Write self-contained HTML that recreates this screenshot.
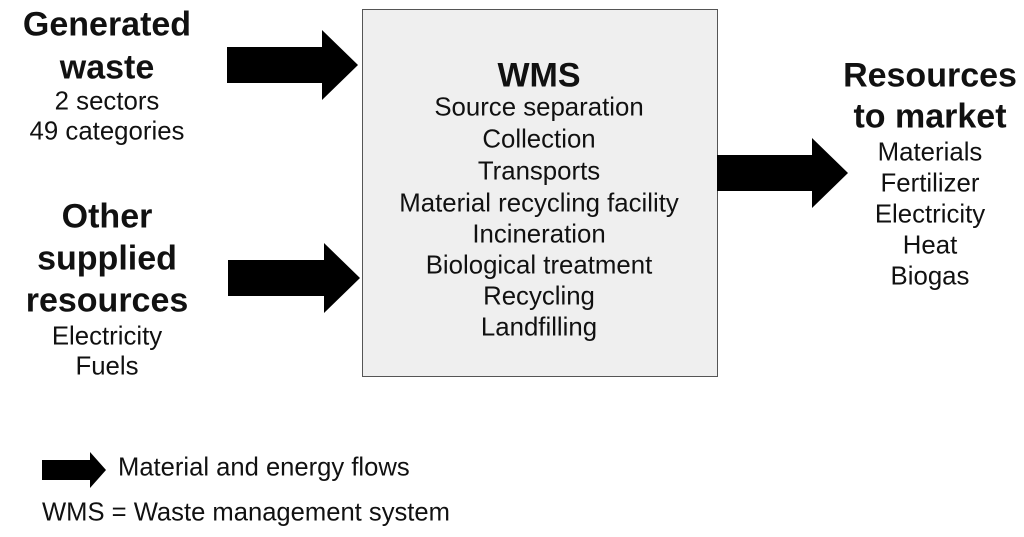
<!DOCTYPE html>
<html><head><style>
body{margin:0;width:1024px;height:537px;background:#fff;position:relative;overflow:hidden;font-family:"Liberation Sans",Arial,sans-serif;color:#111}
.t{position:absolute;text-align:center;white-space:nowrap;transform:translate(-50%,-50%)}
.b{font-weight:bold;font-size:34px}
.r{font-size:25.8px}
.l{position:absolute;white-space:nowrap;font-size:25.6px;transform:translateY(-50%)}
#box{position:absolute;left:362px;top:9px;width:354px;height:366px;background:#efefef;border:1px solid #555}
svg{position:absolute;left:0;top:0}
</style></head><body>
<div id="box"></div>
<svg width="1024" height="537">
<polygon points="227,47 322,47 322,30 358,65 322,100 322,83 227,83" fill="#000"/>
<polygon points="228,260 324,260 324,243 360,278 324,313 324,296 228,296" fill="#000"/>
<polygon points="717,155 812,155 812,138 848,173 812,208 812,191 717,191" fill="#000"/>
<polygon points="42,460 90,460 90,452 106,470 90,488 90,480 42,480" fill="#000"/>
</svg>
<div class="t b" style="left:107px;top:25px">Generated</div>
<div class="t b" style="left:107px;top:68px">waste</div>
<div class="t r" style="left:107px;top:102px">2 sectors</div>
<div class="t r" style="left:107px;top:132px">49 categories</div>
<div class="t b" style="left:107px;top:217px">Other</div>
<div class="t b" style="left:107px;top:259px">supplied</div>
<div class="t b" style="left:107px;top:301px">resources</div>
<div class="t r" style="left:107px;top:337px">Electricity</div>
<div class="t r" style="left:107px;top:367px">Fuels</div>
<div class="t b" style="left:539px;top:76px">WMS</div>
<div class="t r" style="left:539px;top:108px">Source separation</div>
<div class="t r" style="left:539px;top:140px">Collection</div>
<div class="t r" style="left:539px;top:172px">Transports</div>
<div class="t r" style="left:539px;top:204px">Material recycling facility</div>
<div class="t r" style="left:539px;top:235px">Incineration</div>
<div class="t r" style="left:539px;top:266px">Biological treatment</div>
<div class="t r" style="left:539px;top:297px">Recycling</div>
<div class="t r" style="left:539px;top:328px">Landfilling</div>
<div class="t b" style="left:930px;top:76px">Resources</div>
<div class="t b" style="left:930px;top:117px">to market</div>
<div class="t r" style="left:930px;top:153px">Materials</div>
<div class="t r" style="left:930px;top:184px">Fertilizer</div>
<div class="t r" style="left:930px;top:215px">Electricity</div>
<div class="t r" style="left:930px;top:246px">Heat</div>
<div class="t r" style="left:930px;top:277px">Biogas</div>
<div class="l" style="left:118px;top:468px">Material and energy flows</div>
<div class="l" style="left:42px;top:513px">WMS = Waste management system</div>
</body></html>
